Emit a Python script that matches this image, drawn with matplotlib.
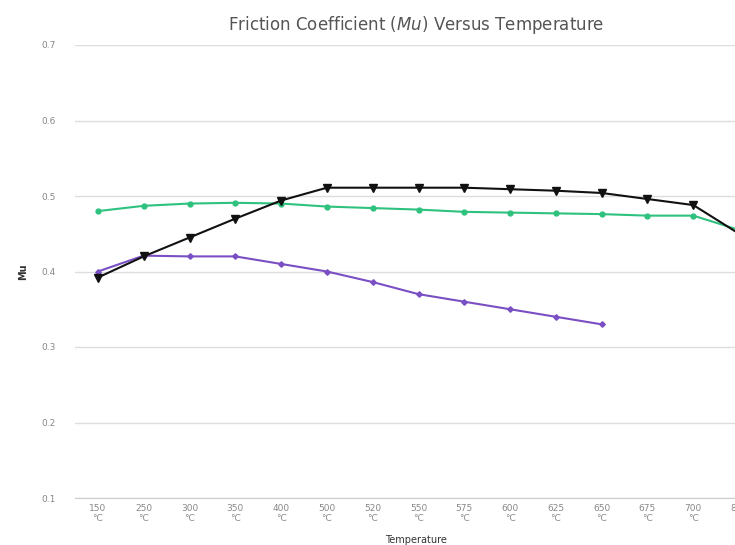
import matplotlib
matplotlib.use("Agg")
import matplotlib.pyplot as plt

# temperatures (categories) and friction coefficient series
temps = ["150", "250", "300", "350", "400", "500", "520", "550",
         "575", "600", "625", "650", "675", "700", "800"]
mu_green = [0.480, 0.487, 0.490, 0.491, 0.490, 0.486, 0.484, 0.482,
            0.479, 0.478, 0.477, 0.476, 0.474, 0.474, 0.455]
mu_black = [0.392, 0.420, 0.445, 0.470, 0.494, 0.511, 0.511, 0.511,
            0.511, 0.509, 0.507, 0.504, 0.496, 0.488, 0.450]
mu_purple = [0.400, 0.421, 0.420, 0.420, 0.410, 0.400, 0.386, 0.370,
             0.360, 0.350, 0.340, 0.330]

y_ticks = [0.1, 0.2, 0.3, 0.4, 0.5, 0.6, 0.7]

fig = plt.figure(figsize=(7.35, 5.45), dpi=100)
# plot area runs past the right edge of the picture, like the cropped original
ax = fig.add_axes([75 / 735, 47 / 545, 687 / 735, 453 / 545])

x = list(range(len(temps)))
ax.plot(x, mu_green, color="#2ec27e", marker="o", markersize=3.5, linewidth=1.5, zorder=3)
ax.plot(x, mu_black, color="#111111", marker="v", markersize=5.5, linewidth=1.5, zorder=4)
ax.plot(x[:len(mu_purple)], mu_purple, color="#7a4fc4", marker="D", markersize=2.8,
        linewidth=1.5, zorder=3)

ax.set_xlim(-0.5, len(temps) - 0.5)
ax.set_ylim(0.1, 0.7)
ax.set_yticks(y_ticks)
ax.set_yticklabels([f"{v:.1f}" for v in y_ticks])
ax.set_xticks(x)
ax.set_xticklabels([f"{t}\n°C" for t in temps])
ax.tick_params(axis="both", labelsize=6.5, colors="#888888", length=0)
ax.tick_params(axis="y", pad=14)
ax.tick_params(axis="x", pad=4)

ax.grid(axis="y", color="#dddddd", linewidth=1)
ax.set_axisbelow(True)
for side in ["top", "right", "left"]:
    ax.spines[side].set_visible(False)
ax.spines["bottom"].set_color("#cccccc")

ax.set_ylabel("Mu", fontsize=7, color="#333333", fontweight="bold")
ax.yaxis.set_label_coords(-47 / 687, 0.5)
ax.set_xlabel("Temperature", fontsize=7, color="#333333")
ax.xaxis.set_label_coords(341 / 687, -37 / 453)

fig.text(416 / 735, 1 - 25 / 545, r"Friction Coefficient ($\mathit{Mu}$) Versus Temperature",
         ha="center", va="center", fontsize=12, color="#555555")

fig.savefig("out.png", dpi=100)
